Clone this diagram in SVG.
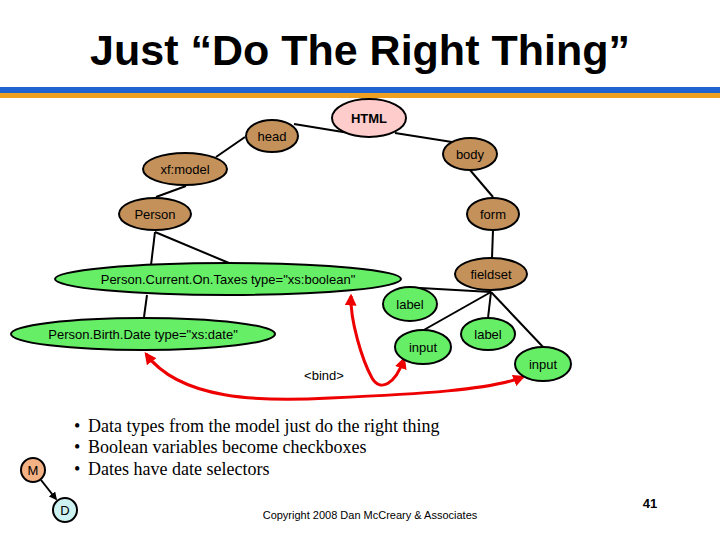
<svg xmlns="http://www.w3.org/2000/svg" width="720" height="540" viewBox="0 0 720 540">
<style>
.n{stroke:#000;stroke-width:2}
.br{fill:#c4915a}
.gr{fill:#66ee66}
.t{font-family:"Liberation Sans",Arial,sans-serif;font-size:13px;text-anchor:middle;dominant-baseline:central}
.e{stroke:#000;stroke-width:2;fill:none}
.r{stroke:#e00;stroke-width:3;fill:none;marker-start:url(#ah);marker-end:url(#ah)}
.b{font-family:"Liberation Serif","Times New Roman",serif;font-size:18px}
</style>
<defs>
<marker id="ah" viewBox="0 0 10 10" refX="8" refY="5" markerWidth="4" markerHeight="4" orient="auto-start-reverse"><path d="M0,0L10,5L0,10z" fill="#e00"/></marker>
<marker id="ak" viewBox="0 0 10 10" refX="8" refY="5" markerWidth="4" markerHeight="4" orient="auto"><path d="M0,0L10,5L0,10z" fill="#000"/></marker>
</defs>
<rect width="720" height="540" fill="#fff"/>
<text x="360" y="65" font-family="Liberation Sans,Arial,sans-serif" font-size="43" font-weight="bold" text-anchor="middle">Just “Do The Right Thing”</text>
<rect x="0" y="87" width="720" height="6" fill="#1f63d0"/>
<rect x="0" y="93" width="720" height="5" fill="#f0a020"/>
<g id="connectors">
<line class="e" x1="294" y1="124" x2="349" y2="133"/>
<line class="e" x1="395" y1="133" x2="452" y2="142"/>
<line class="e" x1="245" y1="137" x2="216" y2="157"/>
<line class="e" x1="186" y1="186" x2="156" y2="197"/>
<line class="e" x1="470" y1="170" x2="493" y2="197"/>
<line class="e" x1="493" y1="230" x2="492" y2="258"/>
<line class="e" x1="155" y1="232" x2="151" y2="265"/>
<line class="e" x1="155" y1="232" x2="229" y2="263"/>
<line class="e" x1="147" y1="295" x2="144" y2="317"/>
<line class="e" x1="491" y1="292" x2="420" y2="288"/>
<line class="e" x1="491" y1="292" x2="422" y2="331"/>
<line class="e" x1="491" y1="292" x2="488" y2="318"/>
<line class="e" x1="491" y1="292" x2="544" y2="348"/>
<path class="r" d="M404,359 C395,385 380,392 372,378 C362,360 350,320 351,296"/>
<path class="r" d="M146,354 C180,400 260,402 330,398 C420,394 490,390 523,377"/>
</g>
<g id="HTML"><ellipse class="n" cx="369" cy="118" rx="37" ry="19" fill="#ffcccc"/><text class="t" x="369" y="118" font-weight="bold" font-size="16">HTML</text></g>
<g id="head"><ellipse class="n br" cx="272" cy="136" rx="26" ry="16"/><text class="t" x="272" y="136">head</text></g>
<g id="body"><ellipse class="n br" cx="470" cy="154" rx="27" ry="16"/><text class="t" x="470" y="154">body</text></g>
<g id="xfmodel"><ellipse class="n br" cx="185" cy="169" rx="42" ry="16"/><text class="t" x="185" y="169">xf:model</text></g>
<g id="Person"><ellipse class="n br" cx="155" cy="214" rx="36" ry="16"/><text class="t" x="155" y="214">Person</text></g>
<g id="form"><ellipse class="n br" cx="493" cy="214" rx="26" ry="16"/><text class="t" x="493" y="214">form</text></g>
<g id="fieldset"><ellipse class="n br" cx="491" cy="274" rx="36" ry="16"/><text class="t" x="491" y="274">fieldset</text></g>
<g id="pcot"><ellipse class="n gr" cx="228" cy="279" rx="173" ry="16"/><text class="t" x="228" y="279">Person.Current.On.Taxes type="xs:boolean"</text></g>
<g id="pbd"><ellipse class="n gr" cx="143" cy="334" rx="132" ry="16"/><text class="t" x="143" y="334">Person.Birth.Date type="xs:date"</text></g>
<g id="label1"><ellipse class="n gr" cx="410" cy="304" rx="27" ry="17"/><text class="t" x="410" y="304">label</text></g>
<g id="input1"><ellipse class="n gr" cx="423" cy="347" rx="28" ry="17"/><text class="t" x="423" y="347">input</text></g>
<g id="label2"><ellipse class="n gr" cx="488" cy="334" rx="27" ry="16"/><text class="t" x="488" y="334">label</text></g>
<g id="input2"><ellipse class="n gr" cx="543" cy="364" rx="28" ry="17"/><text class="t" x="543" y="364">input</text></g>
<text class="t" x="324" y="375" font-size="15">&lt;bind&gt;</text>
<g class="b">
<text x="74" y="432">•</text><text x="88" y="432">Data types from the model just do the right thing</text>
<text x="74" y="453">•</text><text x="88" y="453">Boolean variables become checkboxes</text>
<text x="74" y="475">•</text><text x="88" y="475">Dates have date selectors</text>
</g>
<g id="M"><circle cx="33" cy="470" r="12" fill="#f4b183" stroke="#000" stroke-width="2"/><text class="t" x="33" y="470" font-size="12">M</text></g>
<g id="D"><circle cx="65" cy="510" r="12" fill="#cdf2f2" stroke="#000" stroke-width="2"/><text class="t" x="65" y="510" font-size="12">D</text></g>
<line x1="41" y1="480" x2="56" y2="499" stroke="#000" stroke-width="2" marker-end="url(#ak)"/>
<text x="370" y="519" font-family="Liberation Sans,Arial,sans-serif" font-size="11" text-anchor="middle">Copyright 2008 Dan McCreary &amp; Associates</text>
<text x="650" y="508" font-family="Liberation Sans,Arial,sans-serif" font-size="13" font-weight="bold" text-anchor="middle">41</text>
</svg>
